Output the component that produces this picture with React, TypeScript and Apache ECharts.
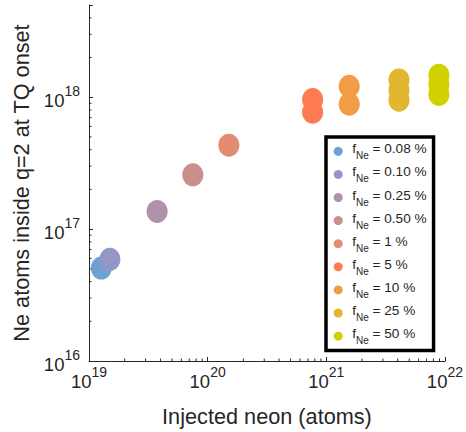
import React, { useEffect, useRef } from "react";
import * as echarts from "echarts";

const fractions = ["0.08 %", "0.10 %", "0.25 %", "0.50 %", "1 %", "5 %", "10 %", "25 %", "50 %"];
const colors = ["#6fa0d3", "#9397c8", "#ae91ab", "#c98f8b", "#e38b73", "#fe7a50", "#f29d45", "#e1b731", "#d2d000"];
const injected = [1.27e19, 1.5e19, 3.75e19, 7.5e19, 1.51e20, 7.67e20, 1.56e21, 4.1e21, 8.9e21];
const insideQ2: number[][] = [
  [5.07e16],
  [5.9e16],
  [1.36e17],
  [2.58e17],
  [4.33e17],
  [9.6e17, 7.7e17],
  [1.21e18, 8.85e17],
  [1.35e18, 1.13e18, 9.5e17],
  [1.47e18, 1.25e18, 1.05e18],
];
const xMinorTicks = [2, 3, 4, 5, 6, 7, 8, 9].flatMap((m) => [m * 1e19, m * 1e20, m * 1e21]);
const yMinorTicks = [2, 3, 4, 5, 6, 7, 8, 9].flatMap((m) => [m * 1e16, m * 1e17]).concat([2e18, 3e18, 4e18]);

const FONT = "Liberation Sans, Arial, Helvetica, sans-serif";
const AX = "#262626";
const ELLIPSE = "path://M50 0 A50 50 0 1 1 50 100 A50 50 0 1 1 50 0 Z";

function powLabel(v: number) {
  const l = Math.log10(v);
  const e = Math.round(l);
  if (Math.abs(l - e) > 1e-6) return "";
  return `{b|10}{s|${e}}`;
}

const powRich = {
  b: { fontSize: 18.5, lineHeight: 26, verticalAlign: "bottom", color: AX, fontFamily: FONT },
  s: { fontSize: 14, lineHeight: 14, verticalAlign: "top", color: AX, fontFamily: FONT },
};

export default function App() {
  const ref = useRef<HTMLDivElement>(null);
  useEffect(() => {
    if (!ref.current) return;
    const chart = echarts.init(ref.current, null, { renderer: "svg" });
    const scatter = fractions.map((f, i) => ({
      name: f,
      type: "scatter",
      symbol: ELLIPSE,
      symbolSize: [21, 23],
      itemStyle: { color: colors[i], opacity: 1 },
      data: insideQ2[i].map((y) => [injected[i], y]),
      z: 3,
    }));
    const tickLine = (horizontal: boolean) => (params: any, api: any) => {
      const p = horizontal ? api.coord([api.value(0), 1e16]) : api.coord([1e19, api.value(1)]);
      return {
        type: "line",
        shape: horizontal
          ? { x1: p[0], y1: p[1], x2: p[0], y2: p[1] - 2.5 }
          : { x1: p[0], y1: p[1], x2: p[0] + 2.5, y2: p[1] },
        style: { stroke: AX, lineWidth: 1 },
      };
    };
    chart.setOption({
      animation: false,
      textStyle: { fontFamily: FONT },
      grid: { left: 89, top: 5, width: 357, height: 356 },
      xAxis: {
        type: "log",
        logBase: 10,
        min: 1e19,
        max: 1e22,
        name: "Injected neon (atoms)",
        nameLocation: "middle",
        nameGap: 44,
        nameTextStyle: { fontSize: 21.7, color: AX, fontFamily: FONT },
        axisLine: { show: true, lineStyle: { color: AX, width: 1 } },
        axisTick: { show: true, inside: true, length: 4, lineStyle: { color: AX } },
        minorTick: { show: false },
        splitLine: { show: false },
        axisLabel: { formatter: powLabel, rich: powRich, margin: 4, showMinLabel: true, showMaxLabel: true },
      },
      yAxis: {
        type: "log",
        logBase: 10,
        min: 1e16,
        max: 5e18,
        name: "Ne atoms inside q=2 at TQ onset",
        nameLocation: "middle",
        nameGap: 57,
        nameTextStyle: { fontSize: 21.7, color: AX, fontFamily: FONT },
        axisLine: { show: true, lineStyle: { color: AX, width: 1 } },
        axisTick: { show: true, inside: true, length: 4, lineStyle: { color: AX } },
        splitLine: { show: false },
        axisLabel: { formatter: powLabel, rich: powRich, margin: 9, showMinLabel: true, showMaxLabel: true },
      },
      legend: {
        data: fractions,
        orient: "vertical",
        left: 326,
        top: 137,
        icon: "circle",
        itemWidth: 18,
        itemHeight: 9,
        itemGap: 4.1,
        padding: [4.8, 7, 5, 7.7],
        backgroundColor: "#fff",
        borderColor: "#000",
        borderWidth: 3.5,
        borderRadius: 0,
        selectedMode: false,
        formatter: (name: string) => `{f|f}{s|Ne}{t| = ${name}}`,
        textStyle: {
          color: AX,
          rich: {
            f: { fontSize: 13.6, lineHeight: 14, verticalAlign: "top", fontFamily: FONT, color: AX },
            t: { fontSize: 13.6, lineHeight: 14, verticalAlign: "top", fontFamily: FONT, color: AX },
            s: { fontSize: 10, lineHeight: 19, verticalAlign: "bottom", fontFamily: FONT, color: AX },
          },
        },
      },
      series: [
        ...scatter,
        {
          type: "custom",
          name: "xminor",
          renderItem: tickLine(true),
          data: xMinorTicks.map((v) => [v, 1e16]),
          silent: true,
          z: 1,
        },
        {
          type: "custom",
          name: "yminor",
          renderItem: tickLine(false),
          data: yMinorTicks.map((v) => [1e19, v]),
          silent: true,
          z: 1,
        },
      ],
    });
    return () => chart.dispose();
  }, []);
  return <div ref={ref} style={{ width: 466, height: 432, position: "absolute", left: 0, top: 0 }} />;
}
